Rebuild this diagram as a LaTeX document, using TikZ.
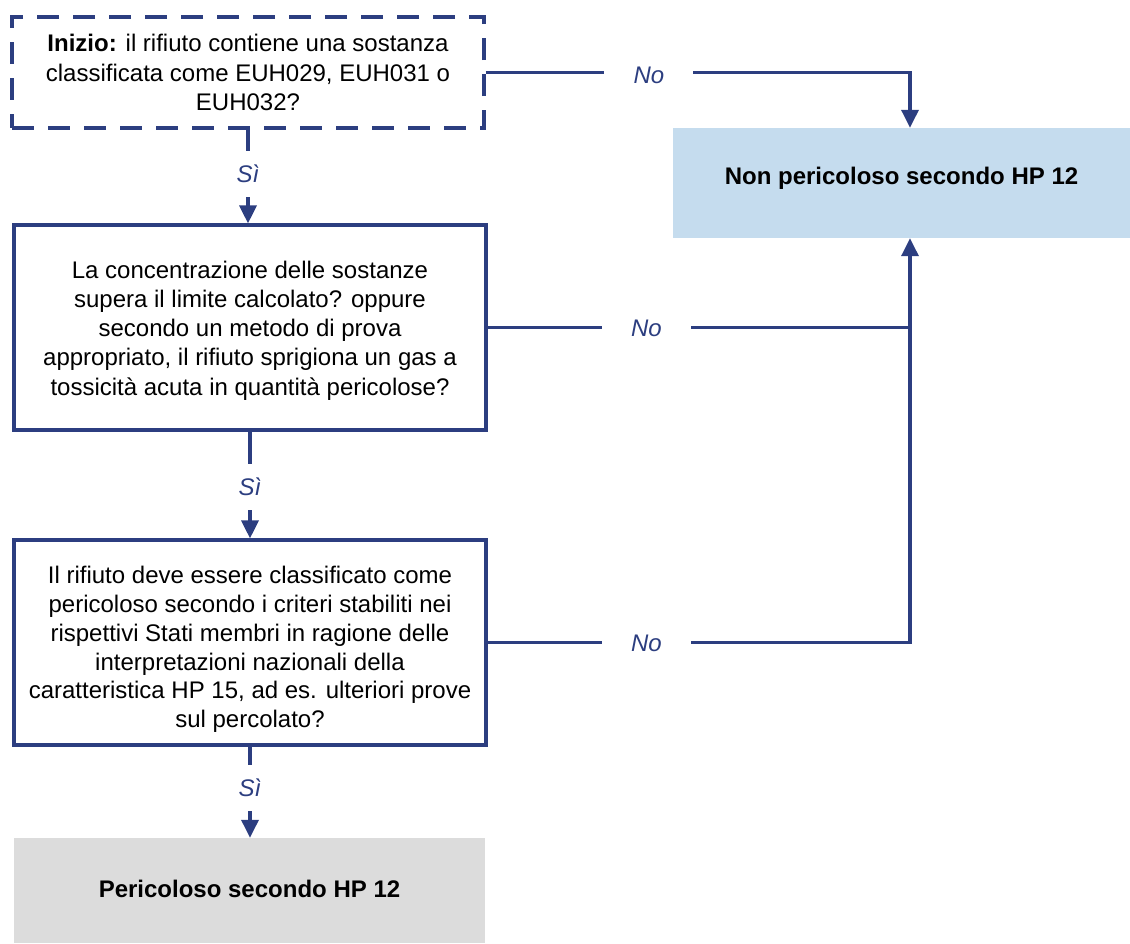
\documentclass[tikz,border=0pt]{standalone}
\usepackage{fontspec}
\setmainfont{Liberation Sans}
\usetikzlibrary{arrows.meta}
\definecolor{navy}{RGB}{44,62,128}
\definecolor{lightblue}{RGB}{197,220,238}
\definecolor{lightgrey}{RGB}{220,220,220}
\tikzset{
  qbox/.style={draw=navy, line width=3.2pt, inner sep=0pt},
  startbox/.style={qbox, dash pattern=on 22pt off 14pt},
  txt/.style={align=center, inner sep=0pt, font=\fontsize{24}{29.2}\selectfont},
  btxt/.style={txt, font=\fontsize{24}{29.2}\selectfont\bfseries},
  conn/.style={draw=navy, line width=3.4pt},
  arr/.style={conn, -{Triangle[width=17pt,length=18pt]}},
  lbl/.style={fill=white, text=navy, inner sep=0pt, font=\fontsize{24}{26}\selectfont\itshape},
  nolbl/.style={lbl, minimum width=89pt, minimum height=20pt},
  silbl/.style={lbl, minimum width=20pt, minimum height=46pt}
}
\begin{document}
\begin{tikzpicture}[x=1pt,y=-1pt]
\useasboundingbox (0,0) rectangle (1130,943);
% boxes
\node[startbox, minimum width=472pt, minimum height=111pt] (s) at (248,72.5) {};
\node[qbox, minimum width=472pt, minimum height=205pt] (b2) at (250,327.5) {};
\node[qbox, minimum width=472pt, minimum height=205pt] (b3) at (250,642.5) {};
\node[fill=lightblue, inner sep=0pt, minimum width=457pt, minimum height=110pt] (np) at (901.5,183) {};
\node[fill=lightgrey, inner sep=0pt, minimum width=471pt, minimum height=105pt] (p) at (249.5,890.5) {};
% texts
\node[txt] (st) at (s.center)
  {\textbf{Inizio:} il rifiuto contiene una sostanza\\classificata come EUH029, EUH031 o\\EUH032?};
\node[txt, yshift=-3pt] (b2t) at (b2.center)
  {La concentrazione delle sostanze\\supera il limite calcolato? oppure\\secondo un metodo di prova\\appropriato, il rifiuto sprigiona un gas a\\tossicità acuta in quantità pericolose?};
\node[txt, font=\fontsize{24}{28.8}\selectfont, yshift=-7pt] (b3t) at (b3.center)
  {Il rifiuto deve essere classificato come\\pericoloso secondo i criteri stabiliti nei\\rispettivi Stati membri in ragione delle\\interpretazioni nazionali della\\caratteristica HP 15, ad es. ulteriori prove\\sul percolato?};
\node[btxt, yshift=5pt] (npt) at (np.center) {Non pericoloso secondo HP 12};
\node[btxt, yshift=2pt] (pt) at (p.center) {Pericoloso secondo HP 12};
% connectors
\coordinate (c1) at (910,72.5);
\coordinate (c2) at (910,327.5);
\coordinate (c3) at (910,642.5);
\draw[arr] (s.south) -- node[silbl, pos=0.47]{Sì} (s.south |- b2.north);
\draw[arr] (b2.south) -- node[silbl, pos=0.52]{Sì} (b2.south |- b3.north);
\draw[arr] (b3.south) -- node[silbl, pos=0.45]{Sì} (b3.south |- p.north);
\draw[arr] (s.east) -- node[nolbl, pos=0.385, yshift=-3pt]{No} (c1) -- (c1 |- np.north);
\draw[conn] (b2.east) -- node[nolbl, pos=0.376, yshift=-1pt]{No} (c2);
\draw[arr] (b3.east) -- node[nolbl, pos=0.376, yshift=-1pt]{No} (c3) -- (c3 |- np.south);
\end{tikzpicture}
\end{document}
